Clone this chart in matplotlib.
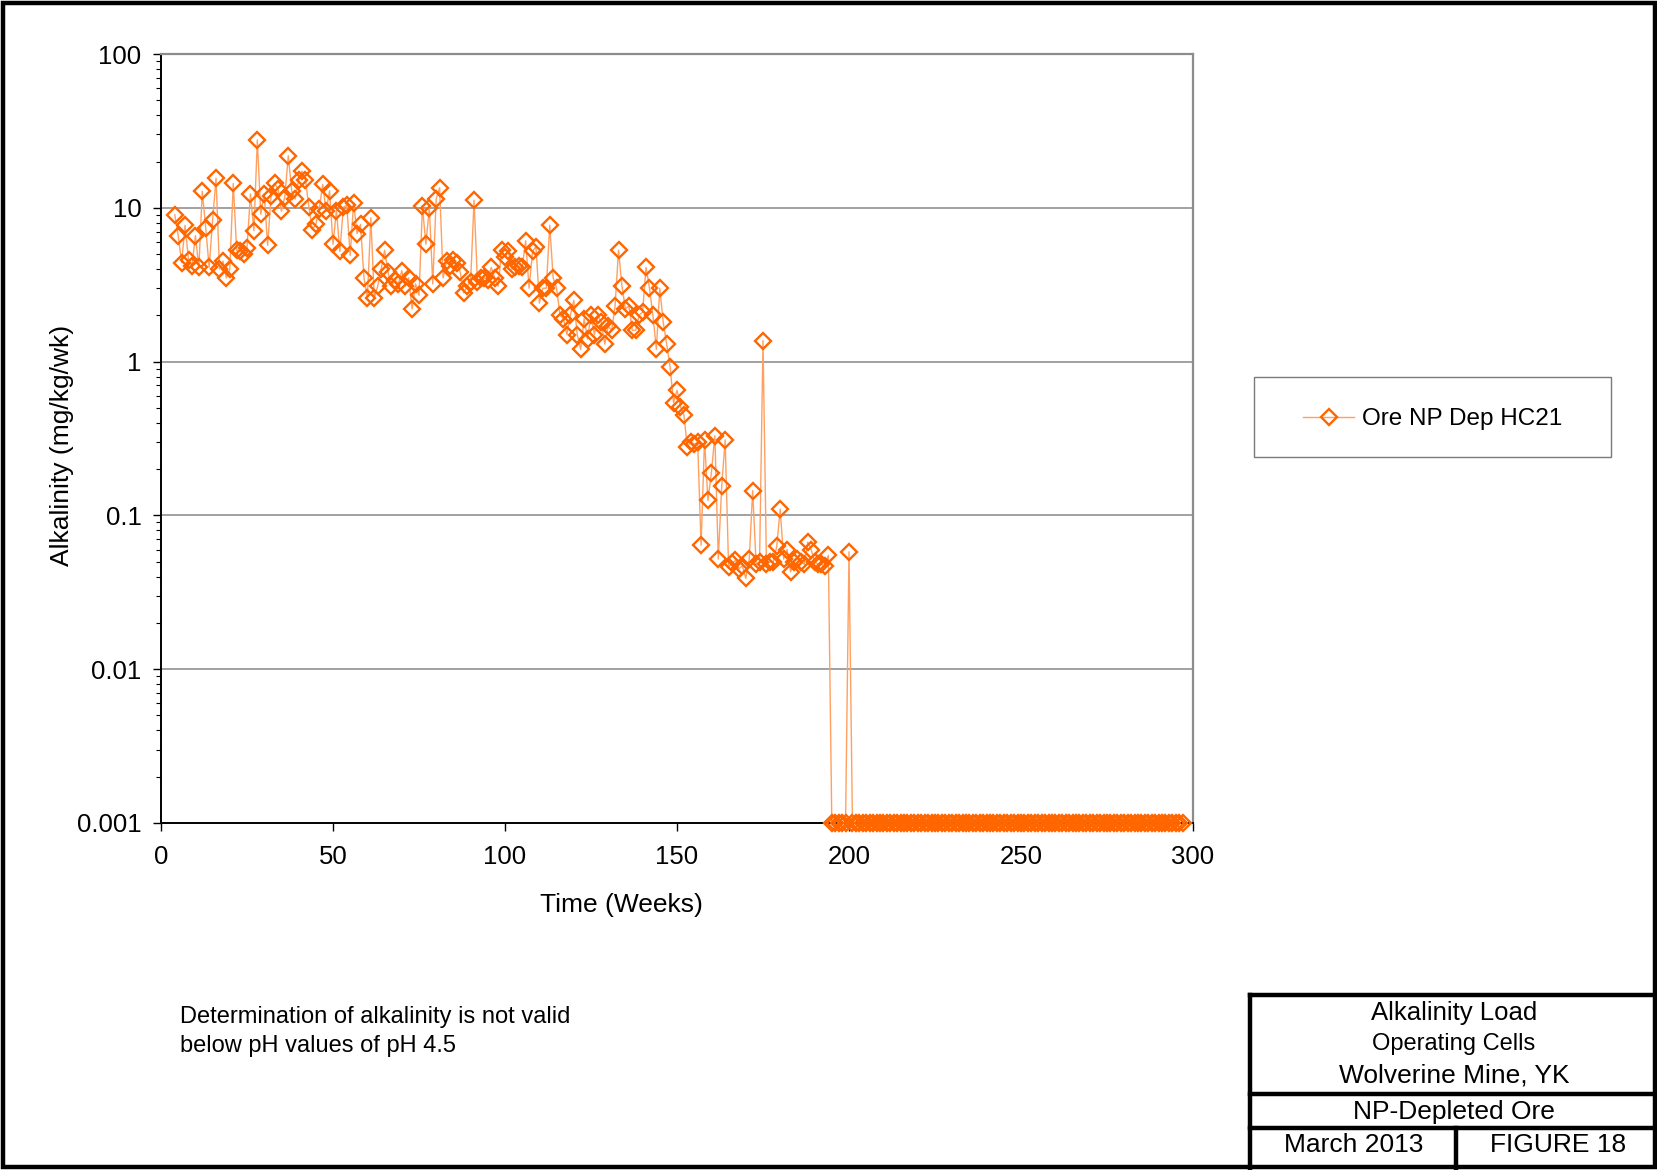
import numpy as np
import matplotlib
matplotlib.use("Agg")
import matplotlib.pyplot as plt
from matplotlib.lines import Line2D
from matplotlib.patches import Rectangle
from matplotlib.ticker import LogLocator, FixedLocator, NullFormatter

plt.rcParams['font.family'] = ['Liberation Sans', 'DejaVu Sans']

# Weekly alkalinity load (mg/kg/wk), HC21 NP-depleted ore, starting week 4
alk_measured = [
    9.0, 6.6, 4.4, 7.7, 4.6, 4.2, 6.6, 4.1, 12.8, 7.4,          # 4-13
    4.1, 8.3, 15.6, 4.0, 4.5, 3.5, 4.0, 14.4, 5.3, 5.2,         # 14-23
    5.0, 5.5, 12.3, 7.1, 27.6, 9.1, 12.3, 5.7, 12.0, 14.4,      # 24-33
    13.3, 9.5, 11.8, 21.8, 12.9, 11.4, 15.2, 17.3, 15.2, 10.1,  # 34-43
    7.2, 7.8, 9.8, 14.2, 9.5, 12.9, 5.8, 9.6, 5.2, 10.1,        # 44-53
    10.4, 4.9, 10.8, 6.8, 7.8, 3.5, 2.6, 8.6, 2.6, 3.1,         # 54-63
    4.0, 5.3, 3.8, 3.1, 3.4, 3.2, 3.9, 3.1, 3.5, 2.2,           # 64-73
    3.2, 2.7, 10.2, 5.8, 10.0, 3.2, 11.4, 13.5, 3.5, 4.5,       # 74-83
    4.2, 4.6, 4.4, 3.8, 2.8, 3.1, 3.3, 11.2, 3.3, 3.5,          # 84-93
    3.5, 3.4, 4.1, 3.5, 3.1, 5.3, 4.8, 5.2, 4.0, 4.1,           # 94-103
    4.2, 4.1, 6.1, 3.0, 5.2, 5.6, 2.4, 3.0, 3.0, 7.7,           # 104-113
    3.5, 3.0, 2.0, 1.9, 1.5, 2.0, 2.5, 1.5, 1.2, 1.9,           # 114-123
    1.4, 2.0, 1.5, 2.0, 1.8, 1.3, 1.7, 1.6, 2.3, 5.3,           # 124-133
    3.1, 2.2, 2.3, 1.6, 1.6, 2.0, 2.1, 4.1, 3.0, 2.0,           # 134-143
    1.2, 3.0, 1.8, 1.3, 0.92, 0.54, 0.65, 0.51, 0.45, 0.28,     # 144-153
    0.30, 0.29, 0.30, 0.064, 0.31, 0.125, 0.19, 0.33, 0.052, 0.155,  # 154-163
    0.31, 0.046, 0.049, 0.051, 0.045, 0.047, 0.039, 0.052, 0.145, 0.048,  # 164-173
    0.05, 1.37, 0.048, 0.05, 0.05, 0.063, 0.11, 0.052, 0.06, 0.043,  # 174-183
    0.05, 0.052, 0.05, 0.048, 0.067, 0.06, 0.05, 0.048, 0.048, 0.047,  # 184-193
    0.055,                                                        # 194
]
# From week 195 on the load sits at the 0.001 plotting floor (one reading at week 200)
alk_late = [0.001] * 5 + [0.058] + [0.001] * 97
alkalinity = alk_measured + alk_late
weeks = np.arange(4, 4 + len(alkalinity))

y_ticks = [0.001, 0.01, 0.1, 1, 10, 100]
y_tick_labels = ["0.001", "0.01", "0.1", "1", "10", "100"]
x_ticks = [0, 50, 100, 150, 200, 250, 300]

W, H = 1658, 1170
fig = plt.figure(figsize=(W / 100, H / 100), dpi=100)
fig.patch.set_facecolor("white")

ax = fig.add_axes([161 / W, 1 - 823 / H, 1032 / W, 769 / H])
ax.set_yscale("log")
ax.set_xlim(0, 300)
ax.set_ylim(0.001, 100)

for yv in y_ticks[1:-1]:
    ax.axhline(yv, color="#9a9a9a", lw=1.3, zorder=1)

MS = 8.3
ax.plot(weeks, alkalinity, color="#FFA060", lw=1.0, zorder=2)
ax.plot(weeks, alkalinity, ls="none", marker="D", ms=MS, mfc="none",
        mec="#FF6600", mew=1.7, zorder=3, clip_on=False)

ax.yaxis.set_major_locator(FixedLocator(y_ticks))
ax.set_yticklabels(y_tick_labels)
ax.yaxis.set_minor_locator(LogLocator(base=10, subs=np.arange(2, 10)))
ax.yaxis.set_minor_formatter(NullFormatter())
ax.set_xticks(x_ticks)
ax.set_xticklabels([str(v) for v in x_ticks])

ax.tick_params(axis="both", which="major", direction="out", length=6,
               width=1.0, labelsize=18.5, color="black")
ax.tick_params(axis="y", which="major", pad=8)
ax.tick_params(axis="x", which="major", pad=10)
ax.tick_params(axis="y", which="minor", direction="out", length=3.5, width=0.8)

for side in ("left", "bottom"):
    ax.spines[side].set_color("black")
    ax.spines[side].set_linewidth(1.4)
for side in ("top", "right"):
    ax.spines[side].set_color("#8c8c8c")
    ax.spines[side].set_linewidth(1.6)

ax.set_xlabel("Time (Weeks)", fontsize=19, labelpad=17, x=0.446)
ax.set_ylabel("Alkalinity (mg/kg/wk)", fontsize=19, labelpad=2, y=0.4915)

# Legend box
fig.patches.append(Rectangle((1254 / W, 1 - 457 / H), 357 / W, 80 / H,
                             transform=fig.transFigure, fill=True,
                             facecolor="white", edgecolor="#7a7a7a", lw=1.0))
handle = Line2D([], [], color="#FFA060", lw=1.0, marker="D", ms=MS,
                mfc="none", mec="#FF6600", mew=1.7)
fig.legend([handle], ["Ore NP Dep HC21"], loc="center",
           bbox_to_anchor=((1254 + 357 / 2) / W, 1 - 419 / H),
           frameon=False, fontsize=17.5, handlelength=2.1, handletextpad=0.3)

# Note text
fig.text(180 / W, 1 - 1017 / H, "Determination of alkalinity is not valid",
         fontsize=17, va="center", ha="left")
fig.text(180 / W, 1 - 1046 / H, "below pH values of pH 4.5",
         fontsize=17, va="center", ha="left")

# Outer frame
fig.patches.append(Rectangle((3 / W, 3 / H), (W - 6) / W, (H - 6) / H,
                             transform=fig.transFigure, fill=False,
                             edgecolor="black", lw=3.2))

# Title block
def fline(x0, y0, x1, y1, lw=3.2):
    fig.add_artist(Line2D([x0 / W, x1 / W], [1 - y0 / H, 1 - y1 / H],
                          transform=fig.transFigure, color="black", lw=lw))

fline(1250, 995, W, 995)
fline(1250, 995, 1250, H)
fline(1250, 1094, W, 1094)
fline(1250, 1128, W, 1128)
fline(1456, 1128, 1456, H)

cx = (1250 + W) / 2
fig.text(cx / W, 1 - 1013 / H, "Alkalinity Load", fontsize=18.5, ha="center", va="center")
fig.text(cx / W, 1 - 1044 / H, "Operating Cells", fontsize=17, ha="center", va="center")
fig.text(cx / W, 1 - 1076 / H, "Wolverine Mine, YK", fontsize=19, ha="center", va="center")
fig.text(cx / W, 1 - 1112 / H, "NP-Depleted Ore", fontsize=19, ha="center", va="center")
fig.text(1354 / W, 1 - 1145 / H, "March 2013", fontsize=19, ha="center", va="center")
fig.text(1558 / W, 1 - 1145 / H, "FIGURE 18", fontsize=19, ha="center", va="center")

fig.savefig("out.png", dpi=100, facecolor="white")
